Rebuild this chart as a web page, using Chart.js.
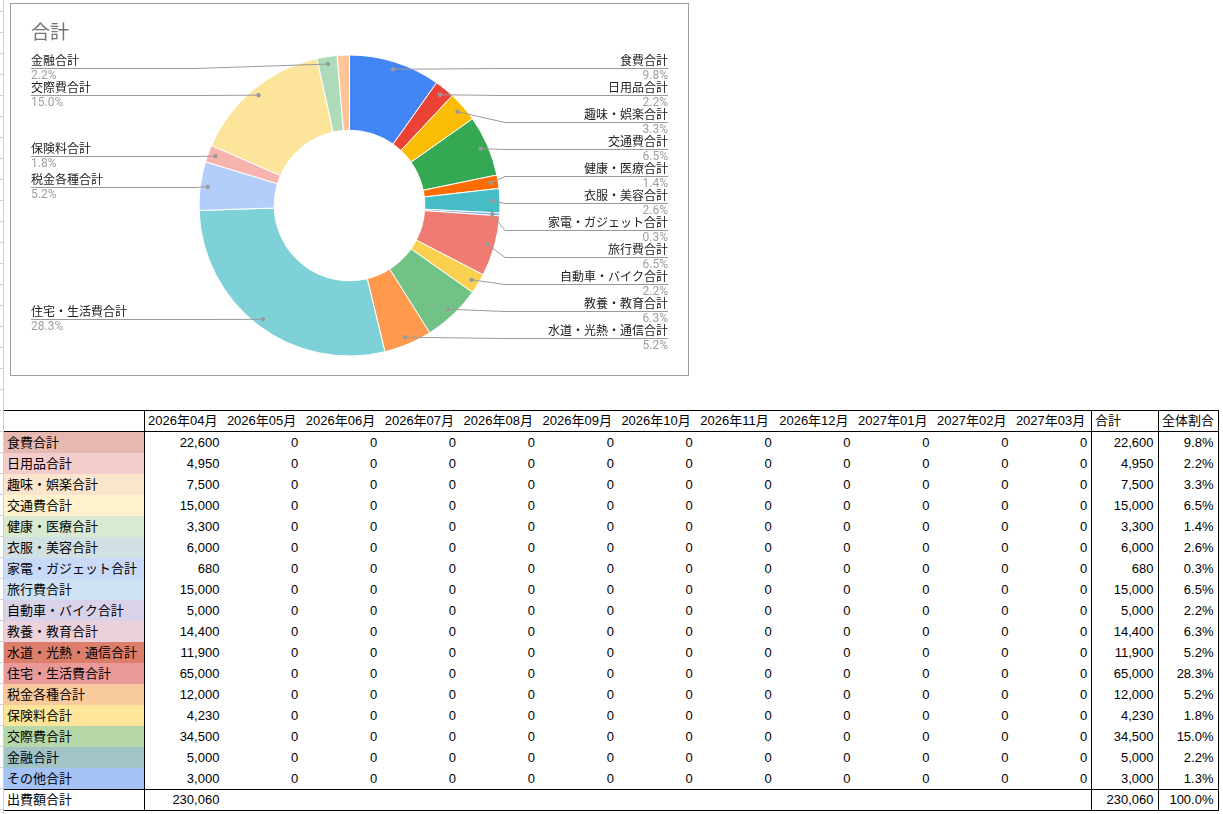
<!DOCTYPE html>
<html><head><meta charset="utf-8">
<script src="https://cdn.jsdelivr.net/npm/chart.js@4.4.1/dist/chart.umd.min.js"></script>
<style>
html,body{margin:0;padding:0;background:#fff;}
body{width:1223px;height:814px;overflow:hidden;position:relative;font-family:'Liberation Sans',Arial,'Noto Sans CJK JP',sans-serif;}
#chartBox{position:absolute;left:10px;top:3px;width:679px;height:373px;border:1px solid #9e9e9e;box-sizing:border-box;background:#fff;}
#chartBox canvas{display:block;}
.cell{position:absolute;font-size:13px;color:#000;white-space:nowrap;overflow:hidden;box-sizing:border-box;}
.num{text-align:right;padding-right:4.5px;}
.txt{text-align:left;padding-left:3px;}
.ln{position:absolute;}
</style></head>
<body>
<div id="gutter"></div>
<div id="chartBox"><canvas id="c" width="677" height="371"></canvas></div>
<div id="tbl"></div>
<script>
// ---------- data ----------
const categories = ['食費合計','日用品合計','趣味・娯楽合計','交通費合計','健康・医療合計','衣服・美容合計','家電・ガジェット合計','旅行費合計','自動車・バイク合計','教養・教育合計','水道・光熱・通信合計','住宅・生活費合計','税金各種合計','保険料合計','交際費合計','金融合計','その他合計'];
const totals = [22600,4950,7500,15000,3300,6000,680,15000,5000,14400,11900,65000,12000,4230,34500,5000,3000];
const grandTotal = 230060;
const months = ['2026年04月','2026年05月','2026年06月','2026年07月','2026年08月','2026年09月','2026年10月','2026年11月','2026年12月','2027年01月','2027年02月','2027年03月'];
const m202604 = [22600,4950,7500,15000,3300,6000,680,15000,5000,14400,11900,65000,12000,4230,34500,5000,3000];
const m202605 = [0,0,0,0,0,0,0,0,0,0,0,0,0,0,0,0,0];
const m202606 = [0,0,0,0,0,0,0,0,0,0,0,0,0,0,0,0,0];
const m202607 = [0,0,0,0,0,0,0,0,0,0,0,0,0,0,0,0,0];
const m202608 = [0,0,0,0,0,0,0,0,0,0,0,0,0,0,0,0,0];
const m202609 = [0,0,0,0,0,0,0,0,0,0,0,0,0,0,0,0,0];
const m202610 = [0,0,0,0,0,0,0,0,0,0,0,0,0,0,0,0,0];
const m202611 = [0,0,0,0,0,0,0,0,0,0,0,0,0,0,0,0,0];
const m202612 = [0,0,0,0,0,0,0,0,0,0,0,0,0,0,0,0,0];
const m202701 = [0,0,0,0,0,0,0,0,0,0,0,0,0,0,0,0,0];
const m202702 = [0,0,0,0,0,0,0,0,0,0,0,0,0,0,0,0,0];
const m202703 = [0,0,0,0,0,0,0,0,0,0,0,0,0,0,0,0,0];
const monthly = [m202604,m202605,m202606,m202607,m202608,m202609,m202610,m202611,m202612,m202701,m202702,m202703];
const monthTotals = [230060,null,null,null,null,null,null,null,null,null,null,null];
const labelShown = [true,true,true,true,true,true,true,true,true,true,true,true,true,true,true,true,false];
const chartTitle = '合計';
const totalRowLabel = '出費額合計';

// ---------- styles ----------
const sliceColors = ['#4285F4','#EA4335','#FBBC04','#34A853','#FF6D01','#46BDC6','#7BAAF7','#F07B72','#FCD04F','#71C287','#FF994D','#7ED1D7','#B3CEFB','#F7B4AE','#FDE49B','#AEDCBA','#FFC599'];
const rowColors = ['#E6B8AF','#F4CCCC','#FCE5CD','#FFF2CC','#D9EAD3','#D0E0E3','#C9DAF8','#CFE2F3','#D9D2E9','#EAD1DC','#DD7E6B','#EA9999','#F9CB9C','#FFE599','#B6D7A8','#A2C4C9','#A4C2F4'];

const fmt = v => v.toLocaleString('en-US');
const pct = v => (v / grandTotal * 100).toFixed(1) + '%';

// ---------- callout label plugin ----------
function layoutSide(items, gap, minY, maxY){
  items.sort((a,b)=>a.ay-b.ay);
  let clusters = items.map(it=>({items:[it]}));
  const place = c => {
    const n = c.items.length;
    let t = c.items.reduce((s,it,k)=>s + it.ay - k*gap, 0)/n;
    t = Math.max(minY, Math.min(maxY-(n-1)*gap, t));
    c.t = t;
  };
  clusters.forEach(place);
  let changed = true;
  while(changed){
    changed = false;
    for(let k=0;k<clusters.length-1;k++){
      const a = clusters[k], b = clusters[k+1];
      if(a.t + a.items.length*gap > b.t + 0.01){
        a.items = a.items.concat(b.items);
        clusters.splice(k+1,1);
        place(a);
        changed = true;
        break;
      }
    }
  }
  clusters.forEach(c=>c.items.forEach((it,k)=>{ it.ly = c.t + k*gap; }));
}

const calloutPlugin = {
  id:'callouts',
  afterDatasetsDraw(chart){
    const ctx = chart.ctx;
    const meta = chart.getDatasetMeta(0);
    const values = chart.data.datasets[0].data;
    const items = [];
    meta.data.forEach((arc,i)=>{
      if(!labelShown[i]) return;
      const p = arc.getProps(['x','y','startAngle','endAngle','outerRadius'], true);
      const mid = (p.startAngle + p.endAngle)/2;
      const rd = p.outerRadius - 7.5;
      items.push({i, cx:p.x, R:p.outerRadius,
        ax:p.x + Math.cos(mid)*rd, ay:p.y + Math.sin(mid)*rd,
        right: Math.cos(mid) >= 0});
    });
    const right = items.filter(it=>it.right), left = items.filter(it=>!it.right);
    layoutSide(right, 27, 64, chart.height-20);
    layoutSide(left, 27, 64, chart.height-20);
    const textRight = 657, textLeft = 20;
    ctx.save();
    items.forEach(it=>{
      const ly = Math.round(it.ly) + 0.5;
      const ex = it.right ? it.cx + it.R + 5 : it.cx - it.R - 5;
      ctx.strokeStyle = '#9a9a9a';
      ctx.lineWidth = 1;
      ctx.beginPath();
      ctx.moveTo(it.ax, it.ay);
      ctx.lineTo(ex, ly);
      ctx.lineTo(it.right ? textRight : textLeft, ly);
      ctx.stroke();
      ctx.fillStyle = '#9a9a9a';
      ctx.beginPath();
      ctx.arc(it.ax, it.ay, 2.2, 0, Math.PI*2);
      ctx.fill();
      ctx.textAlign = it.right ? 'right' : 'left';
      ctx.textBaseline = 'alphabetic';
      const tx = it.right ? textRight : textLeft;
      ctx.font = '12px Roboto, "Noto Sans CJK JP", sans-serif';
      ctx.fillStyle = '#222222';
      ctx.fillText(chart.data.labels[it.i], tx, ly - 3.5);
      ctx.fillStyle = '#9e9e9e';
      ctx.fillText(pct(values[it.i]), tx, ly + 10.5);
    });
    ctx.font = '19px Roboto, "Noto Sans CJK JP", sans-serif';
    ctx.fillStyle = '#757575';
    ctx.textAlign = 'left';
    ctx.fillText(chartTitle, 20, 35);
    ctx.restore();
  }
};

new Chart(document.getElementById('c'), {
  type:'doughnut',
  data:{labels:categories, datasets:[{data:totals, backgroundColor:sliceColors, borderColor:'#ffffff', borderWidth:1}]},
  options:{
    responsive:false, animation:false, cutout:'50%',
    layout:{padding:{left:187.5,right:187.5,top:50.5,bottom:18.5}},
    plugins:{legend:{display:false}, tooltip:{enabled:false}, title:{display:false}}
  },
  plugins:[calloutPlugin]
});

// ---------- table ----------
const tbl = document.getElementById('tbl');
function cell(x,y,w,h,text,cls,bg){
  const d = document.createElement('div');
  d.className = 'cell ' + cls;
  d.style.left = x+'px'; d.style.top = y+'px'; d.style.width = w+'px'; d.style.height = h+'px';
  d.style.lineHeight = h+'px';
  if(bg) d.style.background = bg;
  d.textContent = text;
  tbl.appendChild(d);
}
function line(x,y,w,h,c){
  const d = document.createElement('div');
  d.className = 'ln';
  d.style.left = x+'px'; d.style.top = y+'px'; d.style.width = w+'px'; d.style.height = h+'px';
  d.style.background = c;
  tbl.appendChild(d);
}
const labelX = 4, labelW = 140, monthX0 = 145, monthW = 78.9, sumX = 1092, sumW = 66, pctX = 1159, pctW = 59;
const headY = 411, headH = 20, rowY0 = 432, rowH = 21;
const totY = rowY0 + categories.length*rowH + 1;

// gutter
line(3,0,1,814,'#d0d0d0');
for(let y=rowY0; y<=totY+21; y+=rowH) line(0,y-1,3,1,'#d0d0d0');
for(let y=410; y>0; y-=rowH) line(0,y,3,1,'#d0d0d0');

// header
months.forEach((m,j)=>cell(monthX0 + j*monthW, headY, monthW, headH, m, 'txt'));
cell(sumX, headY, sumW, headH, '合計', 'txt');
cell(pctX, headY, pctW, headH, '全体割合', 'txt');

// rows
categories.forEach((cat,i)=>{
  const y = rowY0 + i*rowH;
  cell(labelX, y, labelW, rowH, cat, 'txt', rowColors[i]);
  monthly.forEach((arr,j)=>cell(monthX0 + j*monthW, y, monthW, rowH, fmt(arr[i]), 'num'));
  cell(sumX, y, sumW, rowH, fmt(totals[i]), 'num');
  cell(pctX, y, pctW, rowH, pct(totals[i]), 'num');
});

// total row
cell(labelX, totY, labelW, 20, totalRowLabel, 'txt');
monthTotals.forEach((v,j)=>{ if(v!==null) cell(monthX0 + j*monthW, totY, monthW, 20, fmt(v), 'num'); });
cell(sumX, totY, sumW, 20, fmt(grandTotal), 'num');
cell(pctX, totY, pctW, 20, pct(grandTotal), 'num');

// borders
[410, 431, rowY0 + categories.length*rowH, 810].forEach(y=>line(4, y, 1215, 1, '#000'));
[144, 1091, 1158, 1218].forEach(x=>line(x, 410, 1, 401, '#000'));
</script>
</body></html>
